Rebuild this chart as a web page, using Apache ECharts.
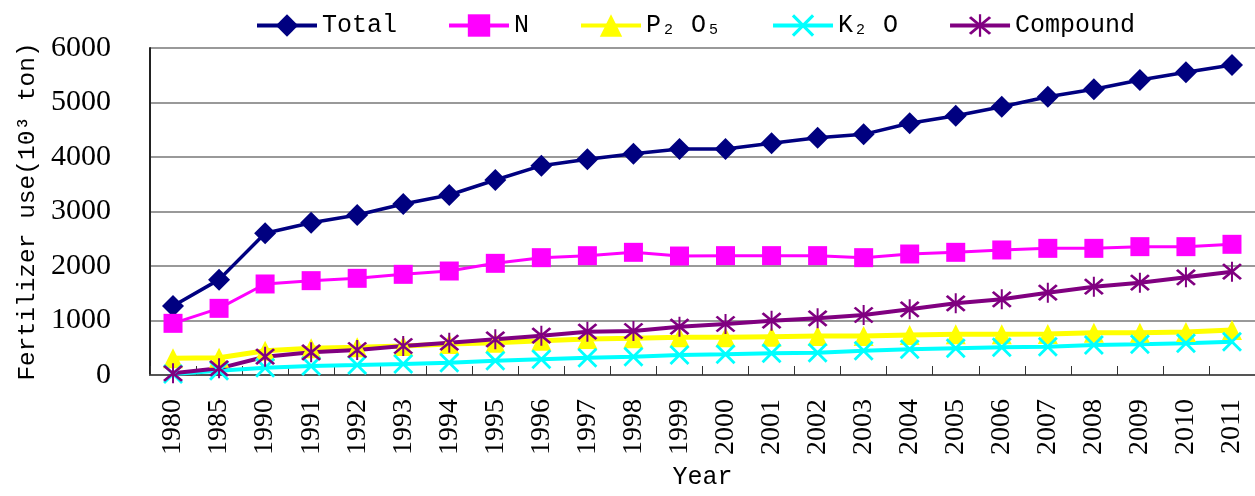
<!DOCTYPE html>
<html>
<head>
<meta charset="utf-8">
<script src="https://cdn.jsdelivr.net/npm/echarts@6/dist/echarts.min.js"></script>
<style>
html,body{margin:0;padding:0;background:#fff;}
#chart{width:1255px;height:496px;}
</style>
</head>
<body>
<div id="chart"></div>
<script>
const years = ['1980','1985','1990','1991','1992','1993','1994','1995','1996','1997','1998','1999','2000','2001','2002','2003','2004','2005','2006','2007','2008','2009','2010','2011'];
const yTicks = [0,1000,2000,3000,4000,5000,6000];
const seriesNames = ['Total','N','P₂ O₅','K₂ O','Compound'];
const totalUse    = [1266,1750,2600,2795,2936,3138,3303,3578,3841,3957,4060,4147,4147,4251,4355,4416,4618,4758,4923,5107,5242,5413,5554,5688];
const nitrogen    = [948,1223,1670,1731,1774,1847,1908,2049,2153,2189,2251,2183,2190,2190,2190,2153,2220,2251,2294,2324,2324,2355,2355,2398];
const phosphate   = [306,318,446,489,508,532,569,593,630,661,673,691,691,703,716,716,734,746,746,752,777,777,789,826];
const potash      = [18,80,135,165,183,202,226,263,287,318,336,367,379,397,410,446,471,489,508,520,550,563,581,612];
const compound    = [31,122,336,416,459,532,593,654,722,795,807,887,936,997,1040,1101,1205,1315,1388,1511,1621,1694,1792,1896];

const crossPath = 'path://M0,1 L1,0 L10,9 L9,10 Z M9,0 L10,1 L1,10 L0,9 Z';
const starPath = 'path://M0,1 L1,0 L10,9 L9,10 Z M9,0 L10,1 L1,10 L0,9 Z M4.5,-1 L5.5,-1 L5.5,11 L4.5,11 Z';

const monoFont = 'Liberation Mono';
const serifFont = 'Liberation Serif';

const chart = echarts.init(document.getElementById('chart'));
function mk(name, data, color, symbol, size, width) {
  return {
    name: name, type: 'line', data: data,
    symbol: symbol, symbolSize: size,
    itemStyle: { color: color },
    lineStyle: { color: color, width: width },
    animation: false
  };
}
chart.setOption({
  animation: false,
  backgroundColor: '#fff',
  textStyle: { fontFamily: serifFont },
  legend: {
    left: 250, top: 8,
    itemWidth: 60, itemHeight: 28, itemGap: 50,
    lineStyle: { width: 4 },
    textStyle: { fontFamily: monoFont, fontSize: 25, color: '#000' },
    data: seriesNames
  },
  grid: { left: 150, right: -9, top: 48, bottom: 121, containLabel: false },
  xAxis: {
    type: 'category', data: years, boundaryGap: true,
    name: 'Year', nameLocation: 'middle', nameGap: 90,
    nameTextStyle: { fontFamily: monoFont, fontSize: 25, color: '#000' },
    axisLine: { lineStyle: { color: '#555', width: 2 } },
    axisTick: { show: true, inside: true, length: 9, lineStyle: { color: '#333', width: 1 } },
    axisLabel: { rotate: 90, fontFamily: serifFont, fontSize: 28, color: '#000', margin: 24 },
    splitLine: { show: false }
  },
  yAxis: {
    type: 'value', min: 0, max: 6000, interval: 1000,
    name: 'Fertilizer use(10³ ton)', nameLocation: 'middle', nameGap: 108,
    nameTextStyle: { fontFamily: monoFont, fontSize: 24.5, color: '#000' },
    axisLine: { show: true, lineStyle: { color: '#222', width: 2 } },
    axisTick: { show: false },
    axisLabel: { fontFamily: serifFont, fontSize: 30, color: '#000', margin: 39,
      formatter: function (v) { return yTicks.indexOf(v) >= 0 ? String(v) : ''; } },
    splitLine: { show: true, lineStyle: { color: '#777', width: 1.5 } }
  },
  series: [
    mk(seriesNames[0], totalUse, '#000080', 'diamond', 22, 3.5),
    mk(seriesNames[1], nitrogen, '#FF00FF', 'rect', 19, 3),
    mk(seriesNames[2], phosphate, '#FFFF00', 'triangle', 20, 5),
    mk(seriesNames[3], potash, '#00FFFF', crossPath, 20, 4),
    mk(seriesNames[4], compound, '#800080', starPath, 20, 4)
  ]
});
</script>
</body>
</html>
